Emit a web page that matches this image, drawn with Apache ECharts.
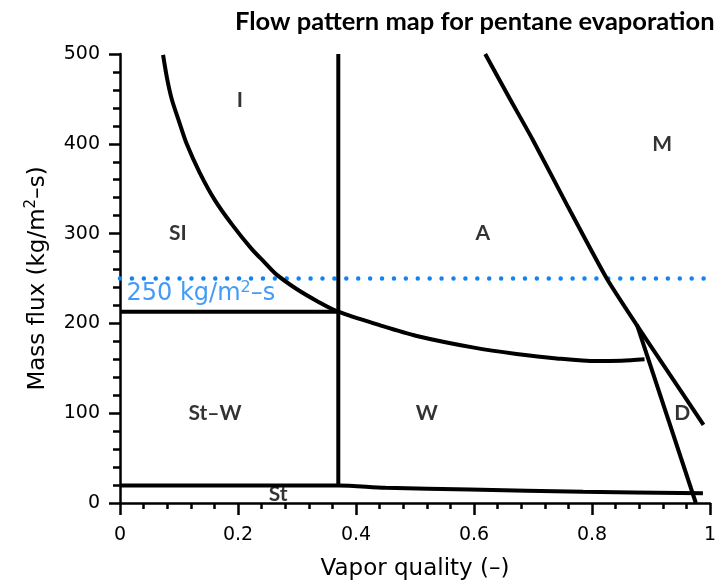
<!DOCTYPE html>
<html>
<head>
<meta charset="utf-8">
<script src="https://cdn.jsdelivr.net/npm/echarts@6/dist/echarts.min.js"></script>
<style>
  html, body { margin: 0; padding: 0; background: #fff; }
  #chart { width: 722px; height: 580px; }
</style>
</head>
<body>
<div id="chart"></div>
<script>
// ---- Data ----
const titleText = 'Flow pattern map for pentane evaporation';
const xAxisName = 'Vapor quality (–)';
const yAxisNameParts = ['Mass flux (kg/m', '2', '–s)'];

// Transition boundaries [vapor quality, mass flux]
const curveIntermittent = [
  [0.073, 499], [0.080, 472], [0.088, 449], [0.100, 425], [0.113, 400],
  [0.135, 368], [0.161, 337], [0.190, 310], [0.223, 283], [0.245, 268],
  [0.266, 254], [0.300, 238], [0.335, 224.5], [0.370, 213], [0.440, 198],
  [0.503, 186], [0.600, 173], [0.672, 166], [0.740, 161], [0.808, 158],
  [0.850, 158.5], [0.889, 160]
];
const curveMist = [
  [0.619, 500], [0.66, 451], [0.70, 404], [0.76, 329], [0.825, 250],
  [0.875, 199], [0.93, 145], [0.989, 87]
];
const curveDryout = [[0.876, 199], [0.976, 0]];
const lineStratWavyTop = [[0, 213], [0.370, 213]];
const lineVertical = [[0.370, 20], [0.370, 500]];
const curveStratified = [
  [0, 19.5], [0.370, 19.5], [0.45, 17], [0.593, 15], [0.785, 12.5], [0.988, 10.8]
];
const referenceFlux = [[0, 250], [1, 250]];

// Region labels
const regionNames = ['I', 'SI', 'A', 'M', 'St–W', 'W', 'D', 'St'];
const regionX = [0.203, 0.098, 0.615, 0.919, 0.161, 0.520, 0.953, 0.268];
const regionY = [449, 300, 300, 399, 100, 100, 100, 10];

// Reference line label
const refLabelParts = ['250 kg/m', '2', '–s'];
const refLabelPos = [0.011, 233];

const chart = echarts.init(document.getElementById('chart'), null, { renderer: 'canvas' });

const black = '#000';
const blue = '#1482f5';
const tickFont = 'DejaVu Sans';
const nameFont = 'DejaVu Sans';

function boundary(data, smooth) {
  return {
    type: 'line', data: data, symbol: 'none', smooth: smooth || false,
    clip: false,
    lineStyle: { color: black, width: 4, cap: 'butt' },
    silent: true, z: 5
  };
}

const option = {
  backgroundColor: '#fff',
  animation: false,
  title: {
    text: titleText, left: 230, top: 4,
    textStyle: { fontFamily: 'Lato', fontWeight: 'bold', fontSize: 25.5, color: black }
  },
  grid: { left: 120, right: 12, top: 54, bottom: 77, containLabel: false, outerBoundsMode: 'none' },
  xAxis: {
    type: 'value', min: 0, max: 1, interval: 0.2,
    name: xAxisName, nameLocation: 'middle', nameGap: 55,
    nameTextStyle: { fontFamily: nameFont, fontSize: 23, color: black },
    axisLine: { show: true, lineStyle: { color: black, width: 2.5 } },
    axisTick: { show: true, length: 12, lineStyle: { color: black, width: 2.5 } },
    minorTick: { show: true, splitNumber: 5, length: 6, lineStyle: { color: black, width: 2.5 } },
    splitLine: { show: false },
    axisLabel: { margin: 23, fontFamily: tickFont, fontSize: 19, color: black }
  },
  yAxis: {
    type: 'value', min: 0, max: 500, interval: 100,
    name: yAxisNameParts[0] + '{sup|' + yAxisNameParts[1] + '}' + yAxisNameParts[2],
    nameLocation: 'middle', nameGap: 68, nameRotate: 90,
    nameTextStyle: {
      fontFamily: nameFont, fontSize: 23, color: black, lineHeight: 28,
      rich: { sup: { fontFamily: nameFont, fontSize: 15, color: black, verticalAlign: 'top', lineHeight: 28 } }
    },
    axisLine: { show: true, lineStyle: { color: black, width: 2.5 } },
    axisTick: { show: true, length: 11, lineStyle: { color: black, width: 2.5 } },
    minorTick: { show: true, splitNumber: 5, length: 7, lineStyle: { color: black, width: 2.5 } },
    splitLine: { show: false },
    axisLabel: { margin: 20, fontFamily: tickFont, fontSize: 19, color: black }
  },
  series: [
    {
      type: 'line', data: referenceFlux, symbol: 'none', silent: true, z: 3,
      lineStyle: { color: blue, width: 4.5, type: [0.01, 11.9], cap: 'round' }
    },
    boundary(curveIntermittent, 0.3),
    boundary(curveMist, 0.2),
    boundary(curveDryout),
    boundary(lineStratWavyTop),
    boundary(lineVertical),
    boundary(curveStratified, 0.3),
    {
      type: 'scatter', silent: true, symbolSize: 0, z: 10,
      data: regionNames.map((n, i) => ({ value: [regionX[i], regionY[i]], name: n })),
      label: {
        show: true, position: 'inside', formatter: p => p.name,
        fontFamily: 'Lato', fontWeight: 'bold', fontSize: 21, color: black
      }
    },
    {
      type: 'scatter', silent: true, symbolSize: 0, z: 10,
      data: [{ value: refLabelPos }],
      label: {
        show: true, position: 'right', distance: 0,
        formatter: refLabelParts[0] + '{sup|' + refLabelParts[1] + '}' + refLabelParts[2],
        fontFamily: 'DejaVu Sans', fontSize: 24, color: blue, lineHeight: 28,
        rich: { sup: { fontFamily: 'DejaVu Sans', fontSize: 16, color: blue, verticalAlign: 'top', lineHeight: 28 } }
      }
    }
  ]
};
chart.setOption(option);
</script>
</body>
</html>
